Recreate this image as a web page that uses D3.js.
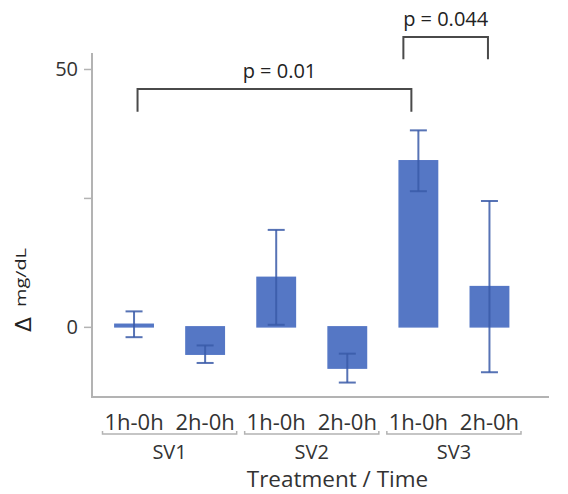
<!DOCTYPE html>
<html><head><meta charset="utf-8">
<script src="https://cdn.jsdelivr.net/npm/d3@7"></script>
<style>body{margin:0;background:#fff}svg{display:block}text{font-family:"Open Sans",sans-serif}</style>
</head><body>
<script>
const categories = ["1h-0h","2h-0h","1h-0h","2h-0h","1h-0h","2h-0h"];
const groups = ["SV1","SV2","SV3"];
const means = [0.5, -5.3, 9.6, -8.0, 32.2, 7.8];
const errors = [2.5, 1.7, 9.2, 2.8, 5.9, 16.6];
const yTicks = [0, 25, 50];
const yTickLabels = ["0", "", "50"];
const pFrom = [0, 4];
const pTo = [4, 5];
const pLabels = ["p = 0.01", "p = 0.044"];
const pLevels = [46.1, 56.2];
const pLegEnds = [41.7, 51.9];

const W = 568, H = 494;
const svg = d3.select("body").append("svg").attr("width", W).attr("height", H);

const x = d3.scaleBand().domain(d3.range(categories.length)).range([98.5, 525]).paddingInner(0.46).paddingOuter(0.23);
const y = d3.scaleLinear().domain([-13.6, 53.1]).range([397, 53]);

const axisColor = "#b3b3b3", textColor = "#333";
const barColor = "#5577c5", errColor = "#3a5aa8";

// y axis
const yAxis = d3.axisLeft(y).tickValues(yTicks).tickSize(8).tickPadding(6)
  .tickFormat((d,i) => yTickLabels[i]);
const gy = svg.append("g").attr("transform", "translate(92,0)").call(yAxis);
gy.select(".domain").attr("stroke", axisColor).attr("stroke-width", 2).attr("d", `M0,${y.range()[1]}V${y.range()[0]}`);
gy.selectAll(".tick line").attr("stroke", axisColor).attr("stroke-width", 1.5);
gy.selectAll(".tick text").attr("fill", textColor).style("font-size", "20px").style("font-family", "'Open Sans',sans-serif");

// x axis line
svg.append("line").attr("x1", 91).attr("x2", 549).attr("y1", 397).attr("y2", 397)
  .attr("stroke", axisColor).attr("stroke-width", 2);

// bars
const bw = x.bandwidth();
svg.append("g").selectAll("rect").data(means).join("rect")
  .attr("x", (d,i) => x(i))
  .attr("width", bw)
  .attr("y", d => y(Math.max(0, d)))
  .attr("height", d => Math.abs(y(d) - y(0)))
  .attr("fill", barColor).attr("stroke", barColor).attr("stroke-width", 1.5);

// error bars
const eg = svg.append("g").attr("stroke", errColor).attr("stroke-width", 2).attr("stroke-opacity", 0.85);
means.forEach((m, i) => {
  const cx = x(i) + bw / 2, cap = 8.5;
  eg.append("line").attr("x1", cx).attr("x2", cx).attr("y1", y(m + errors[i])).attr("y2", y(m - errors[i]));
  eg.append("line").attr("x1", cx - cap).attr("x2", cx + cap).attr("y1", y(m + errors[i])).attr("y2", y(m + errors[i]));
  eg.append("line").attr("x1", cx - cap).attr("x2", cx + cap).attr("y1", y(m - errors[i])).attr("y2", y(m - errors[i]));
});

// category labels
svg.append("g").selectAll("text").data(categories).join("text")
  .attr("x", (d,i) => x(i) + bw / 2).attr("y", 430)
  .attr("text-anchor", "middle").attr("fill", textColor).style("font-size", "22px").text(d => d);

// group brackets
const step = x.step();
groups.forEach((g, gi) => {
  const x0 = x(gi*2) - (step - bw)/2 + 4, x1 = x(gi*2+1) + bw + (step - bw)/2 - 4;
  svg.append("path").attr("d", `M${x0},431V434H${x1}V431`).attr("fill", "none")
    .attr("stroke", axisColor).attr("stroke-width", 1.5);
  svg.append("text").attr("x", (x0 + x1)/2).attr("y", 458.5).attr("text-anchor", "middle")
    .attr("fill", textColor).style("font-size", "20px").text(g);
});

svg.append("text").attr("x", 337.5).attr("y", 487).attr("text-anchor", "middle")
  .attr("fill", textColor).style("font-size", "22.5px").text("Treatment / Time");

// y label
svg.append("text").attr("transform", "translate(31,324.5) rotate(-90)")
  .attr("text-anchor", "middle").attr("fill", "#222")
  .style("font-family", "'DejaVu Sans',sans-serif").style("font-size", "22px").text("Δ");
svg.append("text").attr("transform", "translate(26,307) rotate(-90)")
  .attr("text-anchor", "start").attr("fill", "#222").style("font-size", "15px")
  .attr("textLength", 59).attr("lengthAdjust", "spacingAndGlyphs").text("mg/dL");

// comparison brackets
const pOffsets = [[3.5, -7], [-15, -1.5]];
const pTextShift = [5, 0];
pLabels.forEach((lab, k) => {
  const xa = x(pFrom[k]) + bw/2 + pOffsets[k][0], xb = x(pTo[k]) + bw/2 + pOffsets[k][1];
  const top = y(pLevels[k]), leg = y(pLegEnds[k]);
  svg.append("path").attr("d", `M${xa},${leg}V${top}H${xb}V${leg}`)
    .attr("fill", "none").attr("stroke", "#4a4a4a").attr("stroke-width", 2);
  svg.append("text").attr("x", (xa + xb)/2 + pTextShift[k]).attr("y", top - 11).attr("text-anchor", "middle")
    .attr("fill", "#222").style("font-size", "20px").text(lab);
});
</script>
</body></html>
